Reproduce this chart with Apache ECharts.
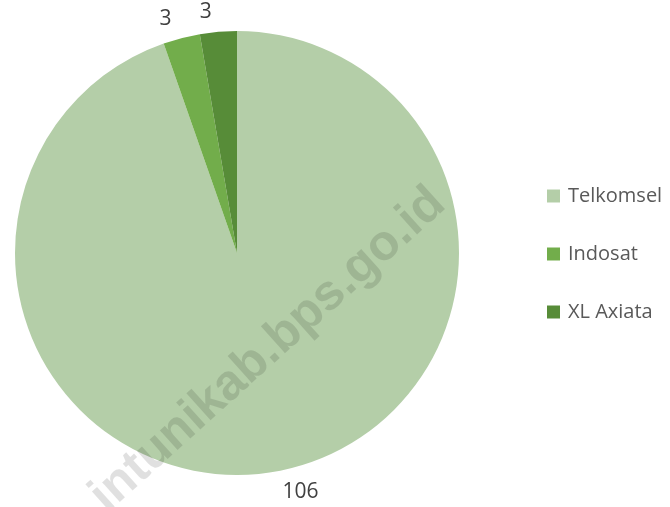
<!DOCTYPE html>
<html>
<head>
<meta charset="utf-8">
<script src="https://cdn.jsdelivr.net/npm/echarts@6/dist/echarts.min.js"></script>
<style>
  html, body { margin: 0; padding: 0; background: #fff; }
  #chart { width: 670px; height: 507px; }
</style>
</head>
<body>
<div id="chart"></div>
<script>
// operator share
const operators = ['Telkomsel', 'Indosat', 'XL Axiata'];
const counts = [106, 3, 3];
const colors = ['#b4cea8', '#72ad4b', '#578c38'];

const chart = echarts.init(document.getElementById('chart'));

chart.setOption({
  backgroundColor: '#ffffff',
  animation: false,
  legend: {
    orient: 'vertical',
    left: 542,
    top: 181,
    itemWidth: 13,
    itemHeight: 13,
    itemGap: 38,
    icon: 'rect',
    textStyle: { fontFamily: 'Open Sans', fontSize: 20, color: '#595959', padding: [0, 0, 0, 3] },
    data: operators
  },
  graphic: [{
    type: 'text',
    x: 268,
    y: 350,
    rotation: Math.PI * 42 / 180,
    style: {
      text: 'intunikab.bps.go.id',
      font: 'bold 50px "Liberation Sans"',
      fill: 'rgba(0,0,0,0.12)',
      align: 'center',
      verticalAlign: 'middle'
    },
    z: 100
  }],
  series: [{
    type: 'pie',
    center: [237, 253],
    radius: 222,
    startAngle: 90,
    clockwise: true,
    avoidLabelOverlap: false,
    color: colors,
    label: {
      show: true,
      position: 'outside',
      formatter: '{c}',
      fontFamily: 'Open Sans',
      fontSize: 21,
      color: '#404040'
    },
    labelLine: { show: false, length: 20, length2: 0 },
    emphasis: { disabled: true },
    data: operators.map((name, i) => ({ name: name, value: counts[i] }))
  }]
});
</script>
</body>
</html>
